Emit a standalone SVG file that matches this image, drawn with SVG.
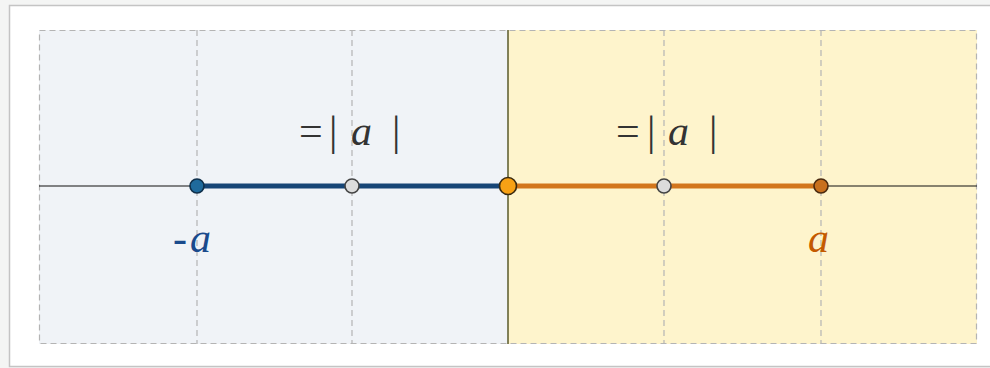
<svg xmlns="http://www.w3.org/2000/svg" width="990" height="368" viewBox="0 0 990 368">
<style>
.grid{stroke:#b4b4b4;stroke-width:1.2;stroke-dasharray:6,4;fill:none}
.eq{font-family:"Liberation Serif",serif;font-size:42px;fill:#333}
.it{font-style:italic}
.lbl{font-family:"Liberation Serif",serif;font-size:42px;font-style:italic}
.pt{stroke-width:1.6}
</style>
<rect x="0" y="0" width="990" height="368" fill="#f4f5f4"/>
<rect x="9.5" y="5.5" width="990" height="361" fill="#ffffff" stroke="#c4c4c4" stroke-width="1.5"/>
<g id="regions">
<rect x="39" y="30" width="469" height="314" fill="#f0f3f7"/>
<rect x="508" y="30" width="469" height="314" fill="#fef4cc"/>
<rect x="39.5" y="30.5" width="937" height="313" class="grid"/>
<line x1="197" y1="30" x2="197" y2="344" class="grid"/>
<line x1="352" y1="30" x2="352" y2="344" class="grid"/>
<line x1="664" y1="30" x2="664" y2="344" class="grid"/>
<line x1="821" y1="30" x2="821" y2="344" class="grid"/>
</g>
<g id="connectors">
<line x1="508" y1="30" x2="508" y2="344" stroke="#5a5a2a" stroke-width="1.5"/>
<line x1="39" y1="186" x2="977" y2="186" stroke="#111" stroke-width="1.2"/>
<line x1="197" y1="186" x2="508" y2="186" stroke="#164576" stroke-width="5"/>
<line x1="508" y1="186" x2="821" y2="186" stroke="#d2761c" stroke-width="5"/>
</g>
<g id="node-neg-a"><circle cx="197" cy="186" r="7" fill="#1f6a9c" stroke="#0f2f4a" class="pt"/></g>
<g id="node-mid-left"><circle cx="352" cy="186" r="7" fill="#dcdcdc" stroke="#444" class="pt"/></g>
<g id="node-zero"><circle cx="508" cy="186" r="8.5" fill="#f7a115" stroke="#3a2a10" class="pt"/></g>
<g id="node-mid-right"><circle cx="664" cy="186" r="7" fill="#dcdcdc" stroke="#444" class="pt"/></g>
<g id="node-a"><circle cx="821" cy="186" r="7" fill="#c8701e" stroke="#4a2a10" class="pt"/></g>
<g id="labels">
<text class="eq" y="145"><tspan x="299">=</tspan><tspan x="329">|</tspan><tspan x="351" class="it">a</tspan><tspan x="392">|</tspan></text>
<text class="eq" y="145"><tspan x="616">=</tspan><tspan x="647">|</tspan><tspan x="668" class="it">a</tspan><tspan x="709">|</tspan></text>
<text y="252" class="lbl" fill="#1a4a8c"><tspan x="173">-</tspan><tspan x="190">a</tspan></text>
<text x="808" y="252" class="lbl" fill="#c45a00">a</text>
</g>
</svg>
